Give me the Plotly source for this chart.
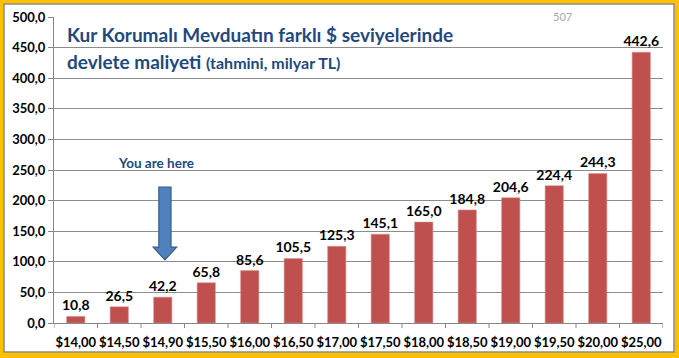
import plotly.graph_objects as go

categories = ["$14,00", "$14,50", "$14,90", "$15,50", "$16,00", "$16,50", "$17,00",
              "$17,50", "$18,00", "$18,50", "$19,00", "$19,50", "$20,00", "$25,00"]
values = [10.8, 26.5, 42.2, 65.8, 85.6, 105.5, 125.3, 145.1, 165.0, 184.8, 204.6, 224.4, 244.3, 442.6]
value_labels = [f"{v:.1f}".replace(".", ",") for v in values]
y_ticks = [0, 50, 100, 150, 200, 250, 300, 350, 400, 450, 500]
y_tick_labels = [f"{t:.1f}".replace(".", ",") for t in y_ticks]

FONT = "Lato, Carlito, Calibri, sans-serif"

fig = go.Figure()
fig.add_trace(go.Bar(
    x=list(range(len(categories))), y=values,
    text=value_labels, textposition="outside", cliponaxis=False, constraintext="none",
    textfont=dict(family=FONT, size=14, color="black", weight="bold"),
    marker=dict(color="#C0504D", line=dict(color="#D99694", width=0.6)),
    width=0.42,
))

W, H = 679, 358
L, R, T, B = 54, 16, 17, 35
pw, ph = W - L - R, H - T - B

def px(x):
    return (x - L) / pw

def py(y):
    return (H - B - y) / ph

shapes = [
    dict(type="rect", xref="paper", yref="paper", x0=px(4), x1=px(674), y0=py(352), y1=py(4),
         fillcolor="white", line=dict(color="#8C8C8C", width=1.5), layer="below"),
]
# arrow ("You are here") pointing at $14,90
ax = 2.05
sw, hw = 0.14, 0.27
y_top, y_head, y_tip = 222, 124, 103
path = (f"M {ax-sw},{y_top} L {ax+sw},{y_top} L {ax+sw},{y_head} L {ax+hw},{y_head} "
        f"L {ax},{y_tip} L {ax-hw},{y_head} L {ax-sw},{y_head} Z")
shapes.append(dict(type="path", xref="x", yref="y", path=path,
                   fillcolor="#4F81BD", line=dict(color="#385D8A", width=1.2), layer="above"))

annotations = [
    dict(xref="paper", yref="paper", x=px(65), y=py(34), xanchor="left", yanchor="middle",
         text="Kur Korumalı Mevduatın farklı $ seviyelerinde", showarrow=False,
         font=dict(family=FONT, size=19, color="#1F497D", weight="bold")),
    dict(xref="paper", yref="paper", x=px(65), y=py(61), xanchor="left", yanchor="middle",
         text="devlete maliyeti <span style='font-size:16px'>(tahmini, milyar TL)</span>", showarrow=False,
         font=dict(family=FONT, size=19, color="#1F497D", weight="bold")),
    dict(xref="paper", yref="paper", x=px(562), y=py(16), xanchor="center", yanchor="middle",
         text="507", showarrow=False, font=dict(family=FONT, size=11, color="#A6A6A6")),
    dict(xref="paper", yref="paper", x=px(156), y=py(163), xanchor="center", yanchor="middle",
         text="You are here", showarrow=False,
         font=dict(family=FONT, size=13.5, color="#1F497D", weight="bold")),
]

fig.update_layout(
    width=W, height=H, margin=dict(l=L, r=R, t=T, b=B, autoexpand=False),
    paper_bgcolor="#FFC000", plot_bgcolor="rgba(0,0,0,0)",
    showlegend=False, shapes=shapes, annotations=annotations,
    xaxis=dict(tickmode="array", tickvals=list(range(len(categories))), ticktext=categories,
               range=[-0.5, len(categories) - 0.5], showgrid=False, automargin=False,
               showline=True, linecolor="#868686", linewidth=1,
               ticks="outside", ticklen=7, tickcolor="rgba(0,0,0,0)",
               tickfont=dict(family=FONT, size=13, color="black", weight="bold")),
    yaxis=dict(range=[0, 500], tickvals=y_ticks, ticktext=y_tick_labels, automargin=False,
               showgrid=True, gridcolor="#8C8C8C", gridwidth=1,
               showline=True, linecolor="#868686", linewidth=1,
               ticks="outside", ticklen=5, tickcolor="#868686", zeroline=False,
               tickfont=dict(family=FONT, size=13, color="black", weight="bold")),
)
# category boundary tick marks on x axis
for i in range(len(categories) + 1):
    fig.add_shape(type="line", xref="x", yref="paper", x0=i - 0.5, x1=i - 0.5, y0=0, y1=-5 / ph,
                  line=dict(color="#868686", width=1))

fig.write_html("out.html", config={"displayModeBar": False},
               post_script="document.body.style.margin='0';")
